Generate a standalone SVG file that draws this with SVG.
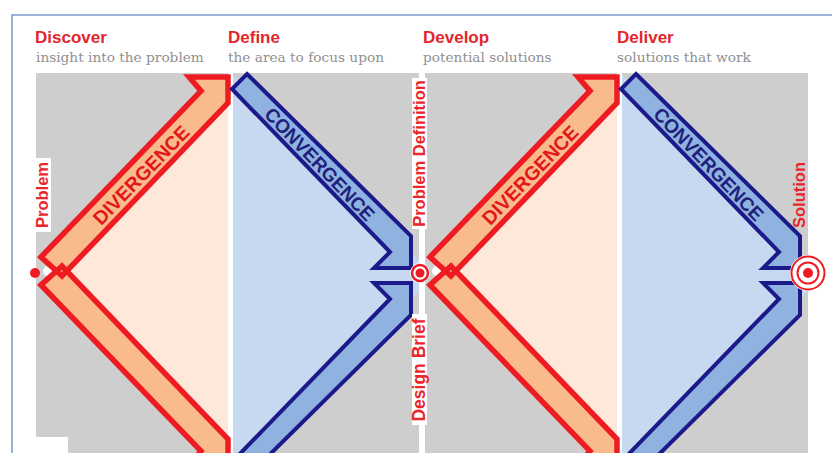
<svg xmlns="http://www.w3.org/2000/svg" width="832" height="453" viewBox="0 0 832 453">
<style>
.panel{fill:#cecece}
.peach{fill:#fde8da}
.lblue{fill:#c6d9f0}
.rf{fill:#f9bb8c;stroke:none}
.rs{fill:none;stroke:#ee1c22;stroke-width:5.5;stroke-linejoin:miter}
.bf{fill:#8fb2e0;stroke:#1c1a8a;stroke-width:4;stroke-linejoin:miter}
.head{font-family:"Liberation Sans",Arial,sans-serif;font-weight:bold;font-size:17px;fill:#e2262b}
.sub{font-family:"DejaVu Serif","Liberation Serif",serif;font-size:13.7px;fill:#909090}
.lbl{font-family:"Liberation Sans",Arial,sans-serif;font-weight:bold;fill:#e8262b;text-anchor:middle}
.div{font-family:"Liberation Sans",Arial,sans-serif;font-weight:bold;font-size:19.5px;fill:#e3161b;text-anchor:middle}
.conv{font-family:"Liberation Sans",Arial,sans-serif;font-weight:bold;font-size:19px;fill:#1f1f7c;text-anchor:middle}
.wbg{fill:#ffffff}
</style>
<defs>
<path id="aRed" d="M41,257 L201,91 L189,77 L228,77 L228,103 L62,276 Z"/>
<path id="aBlue" d="M247,74 L411,236 L411,268 L374,268 L390,252 L232,89 Z"/>
</defs>
<rect x="0" y="0" width="832" height="453" fill="#ffffff"/>
<path d="M12,453 V15 H832" fill="none" stroke="#7d99d0" stroke-width="1.5"/>

<g id="headers">
<g id="discover"><text class="head" x="35" y="43">Discover</text><text class="sub" x="36" y="62">insight into the problem</text></g>
<g id="define"><text class="head" x="228" y="43">Define</text><text class="sub" x="228" y="62">the area to focus upon</text></g>
<g id="develop"><text class="head" x="423" y="43">Develop</text><text class="sub" x="423" y="62">potential solutions</text></g>
<g id="deliver"><text class="head" x="617" y="43">Deliver</text><text class="sub" x="617" y="62">solutions that work</text></g>
</g>

<g id="panels">
<rect class="panel" x="36" y="73" width="192" height="380"/>
<rect class="panel" x="233" y="73" width="186" height="380"/>
<rect class="panel" x="425" y="73" width="192" height="380"/>
<rect class="panel" x="622" y="73" width="186" height="380"/>
<polygon class="peach" points="46,271 228,87 228,455"/>
<polygon class="peach" points="435,271 617,87 617,455"/>
<polygon class="lblue" points="233,75 419,261 419,291 233,477"/>
<polygon class="lblue" points="622,75 808,261 808,291 622,477"/>
<rect class="wbg" x="36" y="437" width="32" height="16"/>
</g>

<g id="connectors">
<g id="divergence-1">
<use href="#aRed" class="rf"/>
<use href="#aRed" class="rf" transform="matrix(1,0,0,-1,0,542)"/>
<circle cx="48" cy="271" r="5" fill="#ffffff"/>
<use href="#aRed" class="rs"/>
<use href="#aRed" class="rs" transform="matrix(1,0,0,-1,0,542)"/>
<text class="div" transform="translate(141,175) rotate(-46)" y="7">DIVERGENCE</text>
</g>
<g id="convergence-1">
<use href="#aBlue" class="bf"/>
<use href="#aBlue" class="bf" transform="matrix(1,0,0,-1,0,551)"/>
<text class="conv" transform="translate(320,164) rotate(46)" y="7">CONVERGENCE</text>
</g>
<g id="divergence-2" transform="translate(389,0)">
<use href="#aRed" class="rf"/>
<use href="#aRed" class="rf" transform="matrix(1,0,0,-1,0,542)"/>
<circle cx="48" cy="271" r="5" fill="#ffffff"/>
<use href="#aRed" class="rs"/>
<use href="#aRed" class="rs" transform="matrix(1,0,0,-1,0,542)"/>
<text class="div" transform="translate(141,175) rotate(-46)" y="7">DIVERGENCE</text>
</g>
<g id="convergence-2" transform="translate(389,0)">
<use href="#aBlue" class="bf"/>
<use href="#aBlue" class="bf" transform="matrix(1,0,0,-1,0,551)"/>
<text class="conv" transform="translate(320,164) rotate(46)" y="7">CONVERGENCE</text>
</g>
</g>

<g id="problem">
<rect class="wbg" x="34" y="158" width="17" height="74"/>
<text class="lbl" font-size="16.5" transform="translate(48,195) rotate(-90)">Problem</text>
<circle cx="35" cy="273" r="5" fill="#ee1c22"/>
</g>

<g id="problem-definition">
<rect class="wbg" x="419" y="73" width="6" height="380"/>
<rect class="wbg" x="412" y="78" width="15" height="151"/>
<text class="lbl" font-size="16.5" transform="translate(425,153.5) rotate(-90)">Problem Definition</text>
<circle cx="420" cy="273" r="10" fill="#ffffff"/>
<circle cx="420" cy="273" r="8" fill="none" stroke="#ee1c22" stroke-width="2.5"/>
<circle cx="420" cy="273" r="4.5" fill="#ee1c22"/>
</g>

<g id="design-brief">
<rect class="wbg" x="412" y="314" width="15" height="111"/>
<text class="lbl" font-size="17.5" transform="translate(425,370) rotate(-90)">Design Brief</text>
</g>

<g id="solution">
<text class="lbl" font-size="16.5" transform="translate(805,195) rotate(-90)">Solution</text>
<circle cx="808" cy="273" r="18" fill="#ffffff"/>
<circle cx="808" cy="273" r="16.5" fill="none" stroke="#ee1c22" stroke-width="2"/>
<circle cx="808" cy="273" r="10.5" fill="none" stroke="#ee1c22" stroke-width="2"/>
<circle cx="808" cy="273" r="5" fill="#ee1c22"/>
</g>
</svg>
